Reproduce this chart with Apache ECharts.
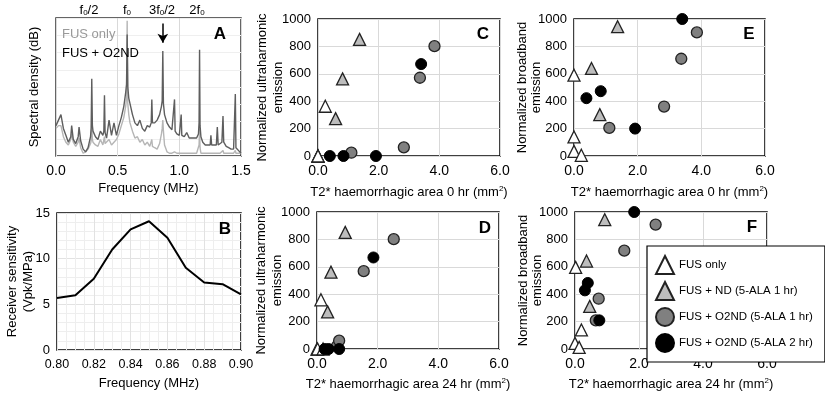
<!DOCTYPE html>
<html><head><meta charset="utf-8">
<script src="https://cdn.jsdelivr.net/npm/echarts@6/dist/echarts.min.js"></script>
<style>html,body{margin:0;padding:0;background:#fff}#c{width:825px;height:393px}</style>
</head><body><div id="c"></div>
<script>
// ---- Panel A: spectra (relative dB) ----
const freqA = [0.00,0.02,0.04,0.06,0.08,0.10,0.12,0.127,0.14,0.16,0.18,0.187,0.20,0.22,0.24,0.26,0.28,0.285,0.29,0.295,0.30,0.32,0.34,0.36,0.38,0.388,0.393,0.398,0.41,0.43,0.45,0.47,0.49,0.51,0.53,0.55,0.565,0.572,0.577,0.582,0.59,0.60,0.62,0.64,0.66,0.68,0.70,0.72,0.74,0.76,0.772,0.777,0.782,0.80,0.82,0.84,0.855,0.861,0.866,0.871,0.88,0.90,0.92,0.94,0.956,0.961,0.966,0.98,1.00,1.01,1.015,1.02,1.04,1.06,1.08,1.10,1.12,1.14,1.155,1.16,1.164,1.168,1.175,1.19,1.21,1.23,1.25,1.256,1.262,1.28,1.30,1.308,1.315,1.33,1.345,1.354,1.36,1.38,1.40,1.42,1.44,1.449,1.454,1.459,1.47,1.49,1.50];
const fusO2ndA = [22,26,30,20,15,10,14,22,12,9,14,21,11,5,3,6,14,20,56,22,18,14,12,18,15,18,44,17,13,26,15,24,15,22,28,36,46,52,88,50,42,38,30,24,22,26,20,18,22,21,24,41,24,24,26,30,36,40,76,38,30,24,21,19,19,41,18,16,15,15,30,15,14,17,13,13,13,13,16,24,77,22,14,10,8,8,8,15,8,8,8,21,8,9,10,29,10,7,6,5,5,6,45,6,5,3,2];
const fusOnlyA = [20,22,22,14,10,8,12,16,10,7,10,13,6,2,3,5,9,11,24,12,10,8,7,12,8,9,14,9,8,12,8,10,12,16,22,28,36,42,98,38,30,24,18,13,14,10,12,8,10,7,8,12,7,6,5,9,16,20,26,18,8,3,2,2,2,3,2,2,2,2,3,2,2,2,2,2,2,2,3,8,20,6,2,2,2,2,2,3,2,2,2,3,2,2,2,4,2,2,2,2,2,2,4,2,2,2,2];

// ---- Panel B: receiver sensitivity ----
const freqB = [0.80,0.81,0.82,0.83,0.84,0.85,0.86,0.87,0.88,0.89,0.90];
const sensB = [5.7,6.0,7.8,11.0,13.2,14.1,12.3,9.0,7.4,7.2,6.1];

// ---- Panel C: area 0 hr vs ultraharmonic ----
const C_fusOnly = [[0,0],[0,0],[0,0],[0.24,363]];
const C_fusND   = [[0.58,273],[0.81,563],[1.37,851]];
const C_o2nd1   = [[1.1,24],[2.83,63],[3.36,571],[3.84,802]];
const C_o2nd2   = [[0.39,0],[0.84,0],[1.91,0],[3.4,671]];
// ---- Panel D: area 24 hr vs ultraharmonic ----
const D_fusOnly = [[0,0],[0.02,0],[0.2,0],[0.13,359]];
const D_fusND   = [[0.35,271],[0.46,561],[0.93,851]];
const D_o2nd1   = [[0.66,22],[0.73,61],[1.54,568],[2.53,802]];
const D_o2nd2   = [[0.25,0],[0.38,0],[0.73,0],[1.86,668]];
// ---- Panel E: area 0 hr vs broadband ----
const E_fusOnly = [[0,590],[0,139],[0,34],[0.23,5]];
const E_fusND   = [[0.55,639],[0.81,302],[1.37,944]];
const E_o2nd1   = [[1.11,205],[2.83,361],[3.37,710],[3.86,902]];
const E_o2nd2   = [[0.39,422],[0.84,473],[1.92,200],[3.4,1000]];
// ---- Panel F: area 24 hr vs broadband ----
const F_fusOnly = [[0.02,596],[0,41],[0.13,12],[0.2,139]];
const F_fusND   = [[0.36,642],[0.46,311],[0.93,944]];
const F_o2nd1   = [[0.65,209],[0.74,367],[1.54,718],[2.52,908]];
const F_o2nd2   = [[0.31,428],[0.4,482],[0.76,209],[1.85,1000]];

const seriesNames = ['FUS only','FUS + ND (5-ALA 1 hr)','FUS + O2ND (5-ALA 1 hr)','FUS + O2ND (5-ALA 2 hr)'];

const FONT = 'Liberation Sans, Arial, sans-serif';
const chart = echarts.init(document.getElementById('c'), null, {renderer:'canvas'});

const grids = [
  {left:56, top:18, width:185, height:138, borderColor:'#333'},
  {left:57, top:213, width:184, height:137, borderColor:'#000'},
  {left:318, top:19, width:182, height:137, borderColor:'#000'},
  {left:317, top:212, width:182, height:137, borderColor:'#000'},
  {left:574, top:19, width:191, height:137, borderColor:'#000'},
  {left:575, top:212, width:192, height:137, borderColor:'#000'}
].map(g => Object.assign({show:true, borderWidth:1.5, backgroundColor:'transparent'}, g));

const supRich = {sup:{fontSize:8, verticalAlign:'top', padding:[0,0,7,0], fontFamily:FONT, color:'#000'}};
const xName0 = 'T2* haemorrhagic area 0 hr (mm{sup|2})';
const xName24 = 'T2* haemorrhagic area 24 hr (mm{sup|2})';
const plain = v => String(v);

function xAx(i, opt) {
  return Object.assign({
    gridIndex:i, type:'value',
    axisLine:{show:false}, axisTick:{show:false},
    axisLabel:{fontFamily:FONT, fontSize:14, color:'#000', margin:8},
    splitLine:{show:true, lineStyle:{color:'#d9d9d9', width:1}},
    nameLocation:'middle', nameGap:28, nameMoveOverlap:false,
    nameTextStyle:{fontFamily:FONT, fontSize:13, color:'#000', rich:supRich}
  }, opt);
}
function yAx(i, opt) {
  return Object.assign({
    gridIndex:i, type:'value',
    axisLine:{show:false}, axisTick:{show:false},
    axisLabel:{fontFamily:FONT, fontSize:13, color:'#000', margin:7, formatter:plain},
    splitLine:{show:true, lineStyle:{color:'#d9d9d9', width:1}},
    nameLocation:'middle', nameRotate:90, nameMoveOverlap:false,
    nameTextStyle:{fontFamily:FONT, fontSize:13, color:'#000', lineHeight:16}
  }, opt);
}
const xl1 = {fontFamily:FONT,fontSize:14,color:'#000',margin:8,formatter:v=>v.toFixed(1)};

const xAxis = [
  xAx(0,{min:0,max:1.5,interval:0.5, axisLabel:xl1, name:'Frequency (MHz)', nameGap:26}),
  xAx(1,{min:0.80,max:0.90,interval:0.02, axisLabel:{fontFamily:FONT,fontSize:12.5,color:'#000',margin:8,formatter:v=>v.toFixed(2)}, name:'Frequency (MHz)', nameGap:27,
        minorTick:{show:false, splitNumber:4}, minorSplitLine:{show:true, lineStyle:{color:'#eeeeee'}}, splitLine:{show:true,lineStyle:{color:'#e2e2e2'}}}),
  xAx(2,{min:0,max:6,interval:2, axisLabel:xl1, name:xName0, nameGap:29}),
  xAx(3,{min:0,max:6,interval:2, axisLabel:xl1, name:xName24}),
  xAx(4,{min:0,max:6,interval:2, axisLabel:xl1, name:xName0, nameGap:29}),
  xAx(5,{min:0,max:6,interval:2, axisLabel:xl1, name:xName24})
];
const yAxis = [
  yAx(0,{min:0,max:100,interval:12.5, axisLabel:{show:false}, splitLine:{show:true,lineStyle:{color:'#efefef'}}, name:'Spectral density (dB)', nameGap:14}),
  yAx(1,{min:0,max:15,interval:5, name:'Receiver sensitivity\n(Vpk/MPa)', nameGap:21,
        minorTick:{show:false, splitNumber:5}, minorSplitLine:{show:true, lineStyle:{color:'#eeeeee'}}, splitLine:{show:true,lineStyle:{color:'#e2e2e2'}}}),
  yAx(2,{min:0,max:1000,interval:200, name:'Normalized ultraharmonic\nemission', nameGap:32}),
  yAx(3,{min:0,max:1000,interval:200, name:'Normalized ultraharmonic\nemission', nameGap:32}),
  yAx(4,{min:0,max:1000,interval:200, name:'Normalized broadband\nemission', nameGap:31, nameTextStyle:{fontFamily:FONT, fontSize:13, color:'#000', lineHeight:14}}),
  yAx(5,{min:0,max:1000,interval:200, name:'Normalized broadband\nemission', nameGap:31, nameTextStyle:{fontFamily:FONT, fontSize:13, color:'#000', lineHeight:14}})
];

const styles = [
  {symbol:'triangle', symbolSize:12, itemStyle:{color:'#ffffff', borderColor:'#222', borderWidth:1.3, opacity:1}},
  {symbol:'triangle', symbolSize:12, itemStyle:{color:'#bdbdbd', borderColor:'#222', borderWidth:1.3, opacity:1}},
  {symbol:'circle', symbolSize:11, itemStyle:{color:'#808080', borderColor:'#222', borderWidth:1.3, opacity:1}},
  {symbol:'circle', symbolSize:11, itemStyle:{color:'#000000', borderColor:'#000', borderWidth:1, opacity:1}}
];
const panels = [
  [C_fusOnly,C_fusND,C_o2nd1,C_o2nd2],
  [D_fusOnly,D_fusND,D_o2nd1,D_o2nd2],
  [E_fusOnly,E_fusND,E_o2nd1,E_o2nd2],
  [F_fusOnly,F_fusND,F_o2nd1,F_o2nd2]
];

const series = [
  {type:'line', name:'A FUS only', xAxisIndex:0, yAxisIndex:0, data:freqA.map((f,i)=>[f,fusOnlyA[i]]),
   showSymbol:false, lineStyle:{color:'#b5b5b5', width:1.4}, itemStyle:{color:'#b5b5b5'}, silent:true, z:2},
  {type:'line', name:'A FUS + O2ND', xAxisIndex:0, yAxisIndex:0, data:freqA.map((f,i)=>[f,fusO2ndA[i]]),
   showSymbol:false, lineStyle:{color:'#5e5e5e', width:1.4}, itemStyle:{color:'#5e5e5e'}, silent:true, z:3,
   markLine:{silent:true, symbol:['none','arrow'], symbolSize:[8,9], label:{show:false},
     lineStyle:{color:'#000', width:1.5, type:'solid'},
     data:[[{coord:[0.866,96]},{coord:[0.866,82]}]]}},
  {type:'line', name:'B', xAxisIndex:1, yAxisIndex:1, data:freqB.map((f,i)=>[f,sensB[i]]),
   showSymbol:false, lineStyle:{color:'#000', width:2}, itemStyle:{color:'#000'}, silent:true}
];
panels.forEach((arrs, p) => {
  arrs.forEach((d, k) => {
    series.push(Object.assign({type:'scatter', name:seriesNames[k], xAxisIndex:p+2, yAxisIndex:p+2, data:d, clip:false, z:3+k}, styles[k]));
  });
});

const letter = (x,y,t) => ({type:'text', x:x, y:y, z:100, style:{text:t, fontFamily:FONT, fontSize:17, fontWeight:'bold', fill:'#000', align:'center', verticalAlign:'middle'}});
const fRich = {s:{fontSize:8, verticalAlign:'bottom', padding:[6,0,0,0], fontFamily:FONT, fill:'#000', color:'#000'}};
const flab = (x,t) => ({type:'text', x:x, y:10, z:100, style:{text:t, rich:fRich, fontFamily:FONT, fontSize:13, fill:'#000', align:'center', verticalAlign:'middle'}});

chart.setOption({
  animation:false,
  backgroundColor:'#fff',
  grid:grids, xAxis:xAxis, yAxis:yAxis, series:series,
  legend:{
    data:seriesNames, orient:'vertical', left:647, top:246,
    backgroundColor:'#fff', borderColor:'#000', borderWidth:1.2,
    padding:[9,12,9,8], itemWidth:18, itemHeight:18, itemGap:6,
    textStyle:{fontFamily:FONT, fontSize:11.5, color:'#000'}, selectedMode:false, z:50
  },
  graphic:[
    flab(89,'f{s|0}/2'), flab(127,'f{s|0}'), flab(162,'3f{s|0}/2'), flab(197,'2f{s|0}'),
    {type:'text', x:62, y:34, z:100, style:{text:'FUS only', fontFamily:FONT, fontSize:13, fill:'#999', verticalAlign:'middle'}},
    {type:'text', x:62, y:53, z:100, style:{text:'FUS + O2ND', fontFamily:FONT, fontSize:13, fill:'#000', verticalAlign:'middle'}},
    letter(220,34,'A'), letter(225,229,'B'), letter(483,34,'C'), letter(485,228,'D'), letter(749,34,'E'), letter(752,227,'F')
  ]
});
</script></body></html>
